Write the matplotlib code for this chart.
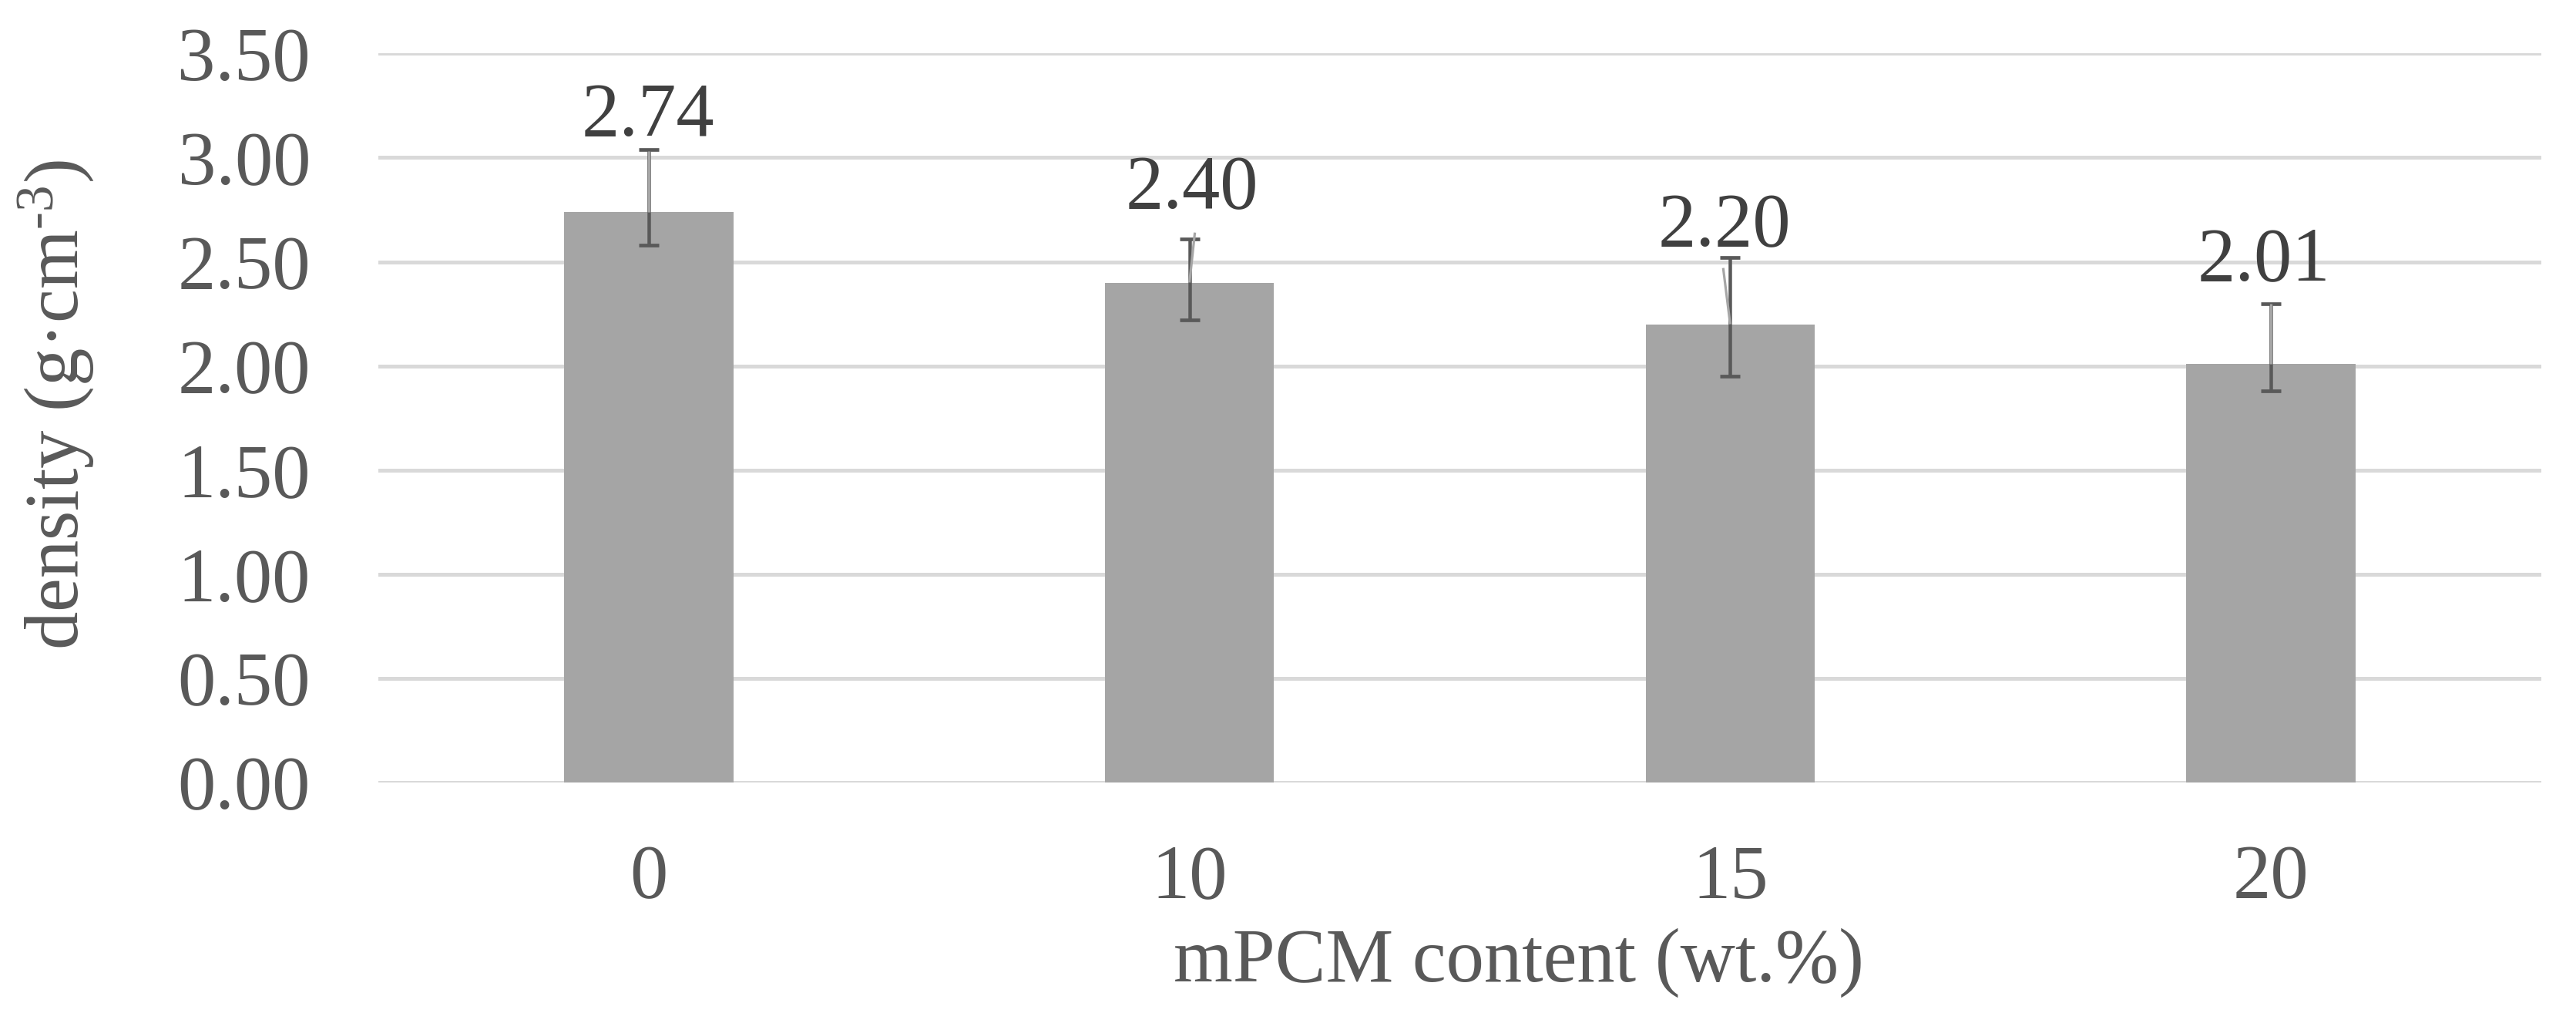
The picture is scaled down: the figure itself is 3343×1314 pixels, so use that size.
import matplotlib
matplotlib.use("Agg")
import matplotlib.pyplot as plt
import numpy as np

# ---- data ----
categories = ["0", "10", "15", "20"]
density = [2.74, 2.40, 2.20, 2.01]
err_plus = [0.30, 0.21, 0.32, 0.29]
err_minus = [0.16, 0.18, 0.25, 0.13]
value_labels = ["2.74", "2.40", "2.20", "2.01"]
yticks = [0.0, 0.5, 1.0, 1.5, 2.0, 2.5, 3.0, 3.5]

# ---- layout / style ----
leader_end = [3.03, 2.64, 2.47, 2.30]       # top end of label leader lines
leader_dx = [0.0, 0.010, -0.013, 0.0]
label_gap_px = [99, 96, 101, 109]            # gap from bar top to label baseline
label_dx_px = [-1, 3, -7, -9]

plt.rcParams["font.family"] = ["Liberation Serif", "DejaVu Serif"]
plt.rcParams["mathtext.fontset"] = "custom"
plt.rcParams["mathtext.rm"] = "Liberation Serif"
plt.rcParams["mathtext.it"] = "Liberation Serif:italic"

DPI = 100
W, H = 3343, 1314
fig = plt.figure(figsize=(W / DPI, H / DPI), dpi=DPI)
fs = 71
pt = 72.0 / DPI  # points per pixel

ax_left, ax_right = 491, 3298
ax_top, ax_bot = 69.3, 1015
ax = fig.add_axes([ax_left / W, 1 - ax_bot / H, (ax_right - ax_left) / W, (ax_bot - ax_top) / H])

x = np.arange(len(categories))
ax.set_xlim(-0.5, len(categories) - 0.5)
ax.set_ylim(0, 3.5)

ax.bar(x, density, width=0.313, color="#A5A5A5", zorder=2)
ax.errorbar(x, density, yerr=[err_minus, err_plus], fmt="none", ecolor="#595959",
            elinewidth=4.5 * pt, capsize=13 * pt, capthick=4.7 * pt, zorder=3)

# label leader lines (light grey)
for i in range(len(x)):
    ax.plot([x[i], x[i] + leader_dx[i]], [density[i], leader_end[i]], color="#A6A6A6",
            lw=3.2 * pt, zorder=4, solid_capstyle="butt")

# value labels
for i in range(len(x)):
    ax.annotate(value_labels[i], xy=(x[i], density[i]),
                xytext=(label_dx_px[i] * pt, label_gap_px[i] * pt), textcoords="offset points",
                ha="center", va="baseline", fontsize=fs, color="#404040", zorder=5)

ax.set_yticks(yticks)
ax.set_yticklabels([f"{v:.2f}" for v in yticks])
ax.set_xticks(x)
ax.set_xticklabels(categories)
ax.tick_params(axis="y", length=0, pad=88 * pt, labelsize=fs, labelcolor="#595959")
ax.tick_params(axis="x", length=0, pad=80 * pt, labelsize=fs, labelcolor="#595959")
ax.grid(axis="y", color="#D9D9D9", lw=5 * pt, zorder=0)
ax.set_axisbelow(True)
for s in ax.spines.values():
    s.set_visible(False)

fig.text(1971 / W, 1 - 1273 / H, "mPCM content (wt.%)", ha="center", va="baseline",
         fontsize=fs, color="#595959")
fig.text(73 / W, 1 - 525 / H, "density (g·cm$^{\\mathregular{\u20103}}$)", rotation=90,
         ha="center", va="center", fontsize=fs, color="#595959")

fig.savefig("out.png", dpi=DPI, facecolor="white")
